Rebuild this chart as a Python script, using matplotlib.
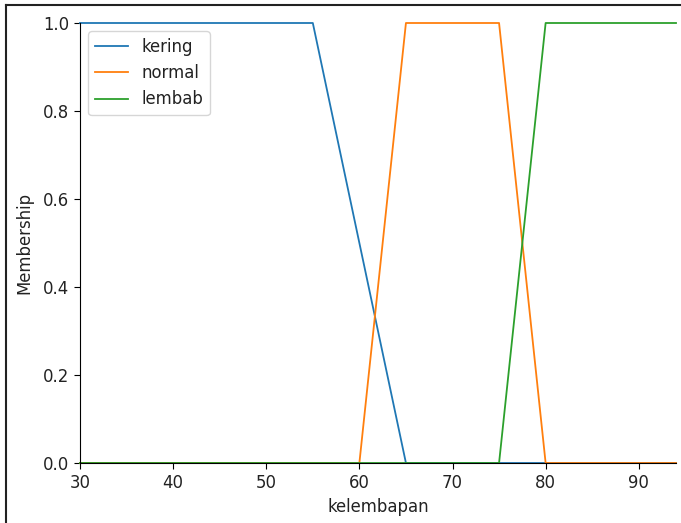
import matplotlib
matplotlib.use("Agg")
import matplotlib.pyplot as plt
from matplotlib.lines import Line2D

# membership breakpoints (universe 30..94)
kering_x = [30, 55, 65, 94]
kering_y = [1, 1, 0, 0]
normal_x = [30, 60, 65, 75, 80, 94]
normal_y = [0, 0, 1, 1, 0, 0]
lembab_x = [30, 75, 80, 94]
lembab_y = [0, 0, 1, 1]

plt.rcParams["font.size"] = 11.9
plt.rcParams["xtick.major.size"] = 4.1
plt.rcParams["ytick.major.size"] = 4.1
plt.rcParams["text.color"] = "#222222"
plt.rcParams["xtick.labelcolor"] = "#222222"
plt.rcParams["ytick.labelcolor"] = "#222222"
plt.rcParams["axes.labelcolor"] = "#222222"

fig = plt.figure(figsize=(6.81, 5.23), dpi=100)
ax = fig.add_axes([80 / 681, 60 / 523, 596 / 681, 440 / 523])

ax.plot(kering_x, kering_y, label="kering", linewidth=1.3, clip_on=False)
ax.plot(normal_x, normal_y, label="normal", linewidth=1.3, clip_on=False)
ax.plot(lembab_x, lembab_y, label="lembab", linewidth=1.3, clip_on=False)

ax.set_xlim(30, 94)
ax.set_ylim(0, 1.0)
ax.set_xlabel("kelembapan", labelpad=5)
ax.set_ylabel("Membership", labelpad=7)
ax.spines["top"].set_visible(False)
ax.spines["right"].set_visible(False)
ax.legend(loc="upper left")

# screenshot frame on the top and left edges
fig.add_artist(Line2D([6 / 681, 6 / 681], [0, 518 / 523], color="#222222",
                      linewidth=1.5, transform=fig.transFigure))
fig.add_artist(Line2D([6 / 681, 1], [518 / 523, 518 / 523], color="#222222",
                      linewidth=1.5, transform=fig.transFigure))

fig.savefig("out.png", dpi=100)
